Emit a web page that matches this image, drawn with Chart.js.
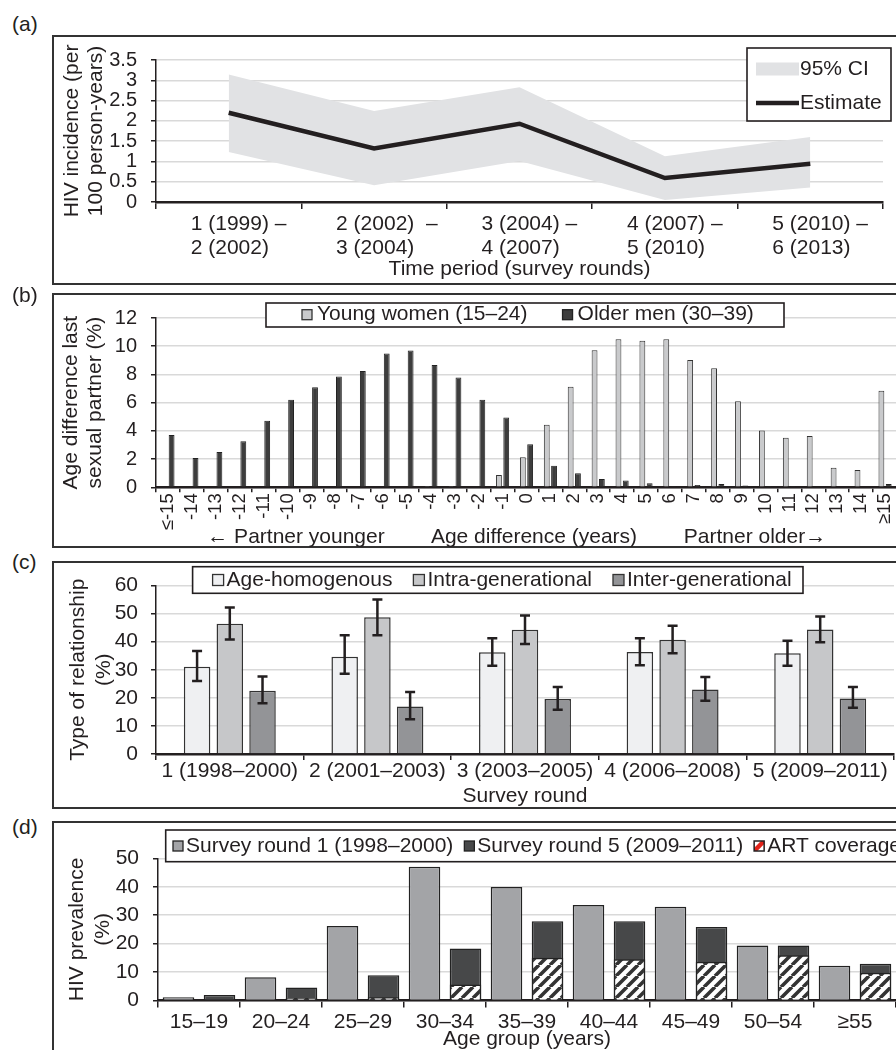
<!DOCTYPE html>
<html><head><meta charset="utf-8">
<script src="https://cdn.jsdelivr.net/npm/chart.js@4"></script>
<style>
html,body{margin:0;padding:0;background:#fff;}
body{width:896px;height:1050px;overflow:hidden;position:relative;font-family:'Liberation Sans',Arial,sans-serif;color:#231f20}
.box{position:absolute;left:52px;width:900px;border:2px solid #333;box-sizing:border-box}
.lab{position:absolute;left:12px;font-size:21px;line-height:24px}
canvas{position:absolute;left:0}
</style></head><body>
<div class="lab" style="top:12px">(a)</div>
<div class="box" style="top:35px;height:250px"></div>
<canvas id="ca" width="900" height="248" style="top:36px"></canvas>
<div class="lab" style="top:283px">(b)</div>
<div class="box" style="top:293px;height:255px"></div>
<canvas id="cb" width="900" height="253" style="top:294px"></canvas>
<div class="lab" style="top:550px">(c)</div>
<div class="box" style="top:561px;height:248px"></div>
<canvas id="cc" width="900" height="246" style="top:562px"></canvas>
<div class="lab" style="top:815px">(d)</div>
<div class="box" style="top:821px;height:300px"></div>
<canvas id="cd" width="900" height="228" style="top:822px"></canvas>
<script>
// ---------- Panel (a) data ----------
const periodLabels = [["1 (1999) –","2 (2002)"],["2 (2002)  –","3 (2004)"],["3 (2004) –","4 (2007)"],["4 (2007) –","5 (2010)"],["5 (2010) –","6 (2013)"]];
const incidence = [2.2, 1.32, 1.93, 0.59, 0.94];
const ciLower = [1.23, 0.41, 1.01, 0.05, 0.36];
const ciUpper = [3.14, 2.24, 2.83, 1.13, 1.6];

// ---------- Panel (b) data ----------
const ageDiffLabels = ["≤-15","-14","-13","-12","-11","-10","-9","-8","-7","-6","-5","-4","-3","-2","-1","0","1","2","3","4","5","6","7","8","9","10","11","12","13","14","≥15"];
const youngWomen = [0,0,0,0,0,0,0,0,0,0.05,0,0.1,0.1,0.07,0.88,2.13,4.44,7.12,9.71,10.5,10.38,10.5,9.02,8.44,6.1,4.02,3.51,3.63,1.39,1.23,6.84];
const olderMen = [3.7,2.08,2.5,3.26,4.72,6.2,7.1,7.86,8.25,9.48,9.69,8.67,7.79,6.2,4.95,3.05,1.53,0.99,0.58,0.49,0.28,0.09,0.16,0.23,0.12,0.09,0.09,0.07,0,0.05,0.23];

// ---------- Panel (c) data ----------
const roundLabels = ["1 (1998–2000)","2 (2001–2003)","3 (2003–2005)","4 (2006–2008)","5 (2009–2011)"];
const ageHomogenous = [31.1, 34.6, 36.2, 36.3, 35.9];
const ageHomLo = [26.0, 28.6, 31.4, 31.6, 31.4];
const ageHomHi = [36.7, 42.3, 41.2, 41.2, 40.3];
const intraGen = [46.4, 48.7, 44.2, 40.7, 44.3];
const intraLo = [40.8, 42.3, 39.2, 35.9, 39.8];
const intraHi = [52.2, 55.0, 49.3, 45.7, 49.0];
const interGen = [22.5, 16.9, 19.6, 23.0, 19.8];
const interLo = [18.1, 12.4, 15.8, 19.0, 16.5];
const interHi = [27.6, 22.1, 23.9, 27.4, 23.9];

// ---------- Panel (d) data ----------
const ageGroups = ["15–19","20–24","25–29","30–34","35–39","40–44","45–49","50–54","≥55"];
const round1Prev = [1.1, 8.2, 26.2, 47.0, 39.9, 33.6, 33.0, 19.3, 12.2];
const round5Prev = [1.9, 4.6, 8.9, 18.3, 27.9, 27.9, 25.8, 19.3, 12.9];
const artCoverage = [0.3, 0.9, 1.1, 5.6, 15.0, 14.5, 13.6, 15.9, 9.8];

// ---------- common ----------
const FONT = "'Liberation Sans', Arial, sans-serif";
const INK = '#231f20';
const GRID = '#d9d9d9';
Chart.defaults.font.family = FONT;
Chart.defaults.color = INK;

function hatchPattern(){
  const s = 11, c = document.createElement('canvas');
  c.width = s; c.height = s;
  const g = c.getContext('2d');
  g.fillStyle = '#ffffff'; g.fillRect(0,0,s,s);
  g.strokeStyle = '#333333'; g.lineWidth = 3.6;
  g.beginPath();
  for (const k of [-s, 0, s]) { g.moveTo(k, s); g.lineTo(k + s, 0); }
  g.stroke();
  return g.createPattern(c, 'repeat');
}
const HATCH = hatchPattern();

function drawSwatch(ctx, it, x, y, w, h){
  ctx.save();
  if (it.type === 'line') {
    ctx.strokeStyle = it.color; ctx.lineWidth = it.width || 4.5;
    ctx.beginPath(); ctx.moveTo(x, y + h/2); ctx.lineTo(x + w, y + h/2); ctx.stroke();
  } else if (it.type === 'art') {
    ctx.fillStyle = '#fff'; ctx.fillRect(x, y, w, h);
    ctx.save(); ctx.beginPath(); ctx.rect(x, y, w, h); ctx.clip();
    ctx.strokeStyle = '#e2231a'; ctx.lineWidth = 4.5;
    ctx.beginPath(); ctx.moveTo(x - 1, y + h + 1); ctx.lineTo(x + w + 1, y - 1); ctx.stroke();
    ctx.restore();
    ctx.strokeStyle = INK; ctx.lineWidth = 1.5; ctx.strokeRect(x, y, w, h);
  } else {
    ctx.fillStyle = it.fill; ctx.fillRect(x, y, w, h);
    if (it.stroke) { ctx.strokeStyle = it.stroke; ctx.lineWidth = 1.3; ctx.strokeRect(x, y, w, h); }
  }
  ctx.restore();
}

const boxLegend = {
  id: 'boxLegend',
  afterDraw(chart, args, o){
    if (!o || !o.items) return;
    const ctx = chart.ctx;
    ctx.save();
    const [bx, by, bw, bh] = o.box;
    ctx.fillStyle = '#fff'; ctx.fillRect(bx, by, bw, bh);
    ctx.strokeStyle = INK; ctx.lineWidth = 1.6; ctx.strokeRect(bx, by, bw, bh);
    ctx.font = o.font; ctx.textBaseline = 'middle'; ctx.textAlign = 'left'; ctx.fillStyle = INK;
    if (o.column) {
      o.items.forEach((it, i) => {
        const cy = o.rows[i];
        drawSwatch(ctx, it, o.swX, cy - o.swH/2, o.swW, o.swH);
        ctx.fillStyle = INK;
        ctx.fillText(it.label, o.textX, cy);
      });
    } else {
      let x = o.start;
      const s = o.size;
      o.items.forEach(it => {
        drawSwatch(ctx, it, x, o.cy - s/2, s, s);
        x += s + o.textGap;
        ctx.fillStyle = INK;
        ctx.fillText(it.label, x, o.cy);
        x += ctx.measureText(it.label).width + o.itemGap;
      });
    }
    ctx.restore();
  }
};

const errorBars = {
  id: 'errorBars',
  afterDatasetsDraw(chart, args, o){
    if (!o || !o.lo) return;
    const ctx = chart.ctx, ys = chart.scales.y;
    ctx.save();
    ctx.strokeStyle = INK; ctx.lineWidth = o.width;
    chart.data.datasets.forEach((ds, di) => {
      const meta = chart.getDatasetMeta(di);
      meta.data.forEach((bar, i) => {
        const x = bar.x, y1 = ys.getPixelForValue(o.lo[di][i]), y2 = ys.getPixelForValue(o.hi[di][i]);
        ctx.beginPath();
        ctx.moveTo(x, y1); ctx.lineTo(x, y2);
        ctx.moveTo(x - o.cap/2, y1); ctx.lineTo(x + o.cap/2, y1);
        ctx.moveTo(x - o.cap/2, y2); ctx.lineTo(x + o.cap/2, y2);
        ctx.stroke();
      });
    });
    ctx.restore();
  }
};

const freeText = {
  id: 'freeText',
  afterDraw(chart, args, o){
    if (!o || !o.items) return;
    const ctx = chart.ctx;
    ctx.save();
    ctx.font = o.font; ctx.fillStyle = INK; ctx.textAlign = 'center'; ctx.textBaseline = 'middle';
    o.items.forEach(it => ctx.fillText(it.text, it.x, it.y));
    ctx.restore();
  }
};

const base = { responsive: false, animation: false, devicePixelRatio: 1 };
const noLegend = { legend: { display: false }, tooltip: { enabled: false } };
function xAxisCommon(extra){
  return Object.assign({
    grid: { offset: true, drawOnChartArea: false, drawTicks: true, tickLength: 7, tickColor: INK, lineWidth: 1.5 },
    border: { display: true, color: INK, width: 2.5 }
  }, extra);
}
function yGrid(){ return { color: GRID, lineWidth: 1.5, tickColor: INK, tickLength: 5 }; }
function yTicks(step, size, pad){
  return { stepSize: step, font: { size: size, lineHeight: 1 }, padding: pad, autoSkip: false, callback: (v) => String(v) };
}

// ---------- Chart (a) ----------
new Chart(document.getElementById('ca'), {
  type: 'line',
  data: { labels: periodLabels, datasets: [
    { label: 'Estimate', data: incidence, borderColor: INK, borderWidth: 4.5, pointRadius: 0, fill: false, tension: 0 },
    { label: 'lower', data: ciLower, borderColor: 'rgba(0,0,0,0)', borderWidth: 0, pointRadius: 0, fill: false },
    { label: '95% CI', data: ciUpper, borderColor: 'rgba(0,0,0,0)', borderWidth: 0, pointRadius: 0, fill: '-1', backgroundColor: '#e1e2e4' }
  ]},
  options: Object.assign({}, base, {
    layout: { padding: { left: 0, right: 17, top: 14, bottom: 0 } },
    plugins: Object.assign({}, noLegend, {
      boxLegend: { box: [747, 12, 144, 73], font: '21px ' + FONT, column: true, rows: [33, 67], swX: 756, swW: 43, swH: 13, textX: 800,
        items: [ { label: '95% CI', fill: '#e1e2e4' }, { label: 'Estimate', type: 'line', color: INK, width: 4.5 } ] }
    }),
    scales: {
      x: xAxisCommon({
        offset: true,
        ticks: { font: { size: 21, lineHeight: 1.15 }, padding: 3, align: 'start', labelOffset: -38, maxRotation: 0, autoSkip: false },
        title: { display: true, text: 'Time period (survey rounds)', font: { size: 21, lineHeight: 1.15 }, padding: { top: 0, bottom: 3 } },
        afterFit(s){ s.height = 82; s.paddingLeft = 0; s.paddingRight = 0; }
      }),
      y: {
        min: 0, max: 3.5,
        ticks: yTicks(0.5, 20, 14),
        grid: yGrid(),
        border: { color: INK, width: 1.5 },
        title: { display: true, text: ['HIV incidence (per', '100 person-years)'], font: { size: 21, lineHeight: 1.15 }, padding: { top: 60, bottom: 0 } },
        afterFit(s){ s.width = 156; }
      }
    }
  }),
  plugins: [boxLegend]
});

// ---------- Chart (b) ----------
new Chart(document.getElementById('cb'), {
  type: 'bar',
  data: { labels: ageDiffLabels, datasets: [
    { label: 'Young women (15–24)', data: youngWomen, backgroundColor: '#c9cacc', borderColor: '#333', borderWidth: 1, categoryPercentage: 0.61, barPercentage: 0.8 },
    { label: 'Older men (30–39)', data: olderMen, backgroundColor: '#3d3d3d', borderColor: '#222', borderWidth: 1, categoryPercentage: 0.61, barPercentage: 0.8 }
  ]},
  options: Object.assign({}, base, {
    layout: { padding: { left: 0, right: 3, top: 20.3, bottom: 0 } },
    plugins: Object.assign({}, noLegend, {
      boxLegend: { box: [266, 9, 518, 24], font: '21px ' + FONT, start: 302, size: 10, textGap: 5, itemGap: 35, cy: 20.7,
        items: [ { label: 'Young women (15–24)', fill: '#c9cacc', stroke: '#333' }, { label: 'Older men (30–39)', fill: '#3d3d3d', stroke: '#222' } ] },
      freeText: { font: '21px ' + FONT, items: [
        { text: '← Partner younger', x: 296, y: 243 },
        { text: 'Age difference (years)', x: 534, y: 243 },
        { text: 'Partner older→', x: 755, y: 243 } ] }
    }),
    scales: {
      x: xAxisCommon({
        grid: { offset: true, drawOnChartArea: false, drawTicks: true, tickLength: 5, tickColor: INK, lineWidth: 1.5 },
        ticks: { font: { size: 18.5 }, minRotation: 90, maxRotation: 90, autoSkip: false, padding: 1 },
        afterFit(s){ s.height = 59.7; s.paddingLeft = 0; s.paddingRight = 0; }
      }),
      y: {
        min: 0, max: 12,
        ticks: yTicks(2, 20, 14),
        grid: yGrid(),
        border: { color: INK, width: 1.5 },
        title: { display: true, text: ['Age difference last', 'sexual partner (%)'], font: { size: 21, lineHeight: 1.15 }, padding: { top: 59, bottom: 0 } },
        afterFit(s){ s.width = 156; }
      }
    }
  }),
  plugins: [boxLegend, freeText]
});

// ---------- Chart (c) ----------
new Chart(document.getElementById('cc'), {
  type: 'bar',
  data: { labels: roundLabels, datasets: [
    { label: 'Age-homogenous', data: ageHomogenous, backgroundColor: '#eff0f2', borderColor: '#333', borderWidth: 1.5, categoryPercentage: 0.665, barPercentage: 0.81 },
    { label: 'Intra-generational', data: intraGen, backgroundColor: '#c6c7c9', borderColor: '#333', borderWidth: 1.5, categoryPercentage: 0.665, barPercentage: 0.81 },
    { label: 'Inter-generational', data: interGen, backgroundColor: '#939497', borderColor: '#333', borderWidth: 1.5, categoryPercentage: 0.665, barPercentage: 0.81 }
  ]},
  options: Object.assign({}, base, {
    layout: { padding: { left: 0, right: 6, top: 19.7, bottom: 0 } },
    plugins: Object.assign({}, noLegend, {
      errorBars: { lo: [ageHomLo, intraLo, interLo], hi: [ageHomHi, intraHi, interHi], cap: 10, width: 2.5 },
      boxLegend: { box: [192.6, 4.7, 610.4, 26.6], font: '21px ' + FONT, start: 212.6, size: 11, textGap: 3, itemGap: 21, cy: 18,
        items: [ { label: 'Age-homogenous', fill: '#eff0f2', stroke: '#333' }, { label: 'Intra-generational', fill: '#c6c7c9', stroke: '#333' }, { label: 'Inter-generational', fill: '#939497', stroke: '#333' } ] }
    }),
    scales: {
      x: xAxisCommon({
        grid: { offset: true, drawOnChartArea: false, drawTicks: true, tickLength: 6, tickColor: INK, lineWidth: 1.5 },
        ticks: { font: { size: 21, lineHeight: 1 }, padding: 0.5, maxRotation: 0, autoSkip: false },
        title: { display: true, text: 'Survey round', font: { size: 21, lineHeight: 1 }, padding: { top: 0, bottom: 1 } },
        afterFit(s){ s.height = 54; s.paddingLeft = 0; s.paddingRight = 0; }
      }),
      y: {
        min: 0, max: 60,
        ticks: yTicks(10, 21, 13),
        grid: yGrid(),
        border: { color: INK, width: 1.5 },
        title: { display: true, text: ['Type of relationship', '(%)'], font: { size: 21, lineHeight: 1.2 }, padding: { top: 66, bottom: 0 } },
        afterFit(s){ s.width = 156; }
      }
    }
  }),
  plugins: [errorBars, boxLegend]
});

// ---------- Chart (d) ----------
new Chart(document.getElementById('cd'), {
  type: 'bar',
  data: { labels: ageGroups, datasets: [
    { label: 'Survey round 1 (1998–2000)', data: round1Prev, stack: 'r1', backgroundColor: '#a3a4a7', borderColor: '#222', borderWidth: 1.5, categoryPercentage: 1.0, barPercentage: 0.77 },
    { label: 'ART coverage', data: artCoverage, stack: 'r5', backgroundColor: HATCH, borderColor: '#222', borderWidth: 1.5, categoryPercentage: 1.0, barPercentage: 0.77 },
    { label: 'Survey round 5 (2009–2011)', data: round5Prev, stack: 'r5', backgroundColor: '#474849', borderColor: '#222', borderWidth: 1.5, categoryPercentage: 1.0, barPercentage: 0.77 }
  ]},
  options: Object.assign({}, base, {
    layout: { padding: { left: 0, right: 4, top: 36.3, bottom: 0 } },
    plugins: Object.assign({}, noLegend, {
      boxLegend: { box: [165.7, 8, 760, 31.7], font: '21px ' + FONT, start: 173, size: 10, textGap: 3, itemGap: 11, cy: 24,
        items: [ { label: 'Survey round 1 (1998–2000)', fill: '#a3a4a7', stroke: '#222' }, { label: 'Survey round 5 (2009–2011)', fill: '#474849', stroke: '#222' }, { label: 'ART coverage', type: 'art' } ] }
    }),
    scales: {
      x: xAxisCommon({
        stacked: true,
        ticks: { font: { size: 21, lineHeight: 1 }, padding: 4.5, maxRotation: 0, autoSkip: false },
        title: { display: true, text: 'Age group (years)', font: { size: 21, lineHeight: 1 }, padding: { top: 0, bottom: 0.5 } },
        afterFit(s){ s.height = 49.5; s.paddingLeft = 0; s.paddingRight = 0; }
      }),
      y: {
        stacked: false,
        min: 0, max: 50,
        ticks: yTicks(10, 21, 14),
        grid: yGrid(),
        border: { color: INK, width: 1.5 },
        title: { display: true, text: ['HIV prevalence', '(%)'], font: { size: 21, lineHeight: 1.25 }, padding: { top: 64, bottom: 0 } },
        afterFit(s){ s.width = 158; }
      }
    }
  }),
  plugins: [boxLegend]
});
</script>
</body></html>
